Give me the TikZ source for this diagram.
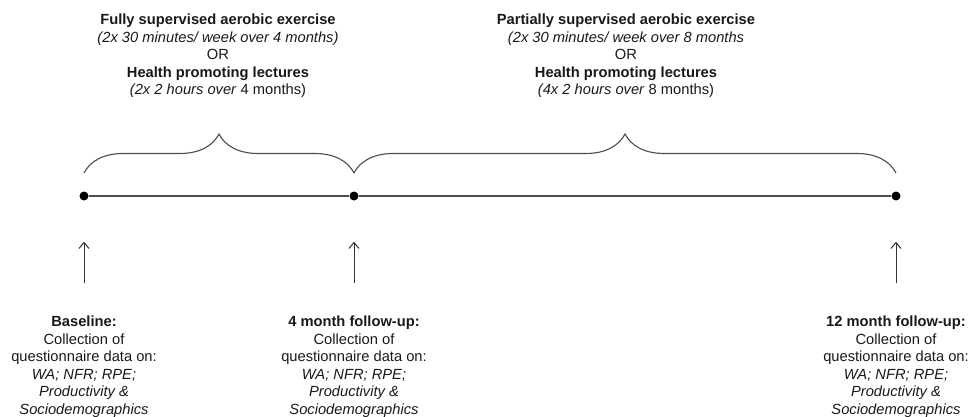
\documentclass[tikz,border=0pt]{standalone}
\usepackage{fontspec}
\setmainfont{Liberation Sans}
\usetikzlibrary{arrows.meta,decorations.pathreplacing}

\begin{document}
\begin{tikzpicture}[x=1pt,y=-1pt]%
  \tikzstyle{dotn}=[circle,fill=black,inner sep=0,minimum size=9pt]
  \tikzstyle{txtn}=[align=center,inner sep=0,anchor=north,text=black!90,font=\fontsize{14.7}{17.5}\selectfont]
  \tikzstyle{brc}=[draw=black!70,line width=1.1pt,decorate,decoration={brace,amplitude=39pt,raise=23pt}]
  \tikzstyle{arr}=[draw=black!80,line width=1pt,-{Straight Barb[length=6pt,width=10pt]}]
  \useasboundingbox (0,0) rectangle (972,417);
  \node(d0)[dotn] at (84,196) {};
  \node(d1)[dotn] at (354,196) {};
  \node(d2)[dotn] at (896,196) {};
  \draw[black!70,line width=1.8pt] (d0) -- (d1) -- (d2);
  \draw[brc] (d0.center) -- (d1.center);
  \draw[brc] (d1.center) -- (d2.center);
  \node(fs)[txtn] at (218,14) {\textbf{Fully supervised aerobic exercise}\\
    \textit{(2x 30 minutes/ week over 4 months)}\\ OR\\
    \textbf{Health promoting lectures}\\ \textit{(2x 2 hours over} 4 months)};
  \node(ps)[txtn] at (626,14) {\textbf{Partially supervised aerobic exercise}\\
    \textit{(2x 30 minutes/ week over 8 months}\\ OR\\
    \textbf{Health promoting lectures}\\ \textit{(4x 2 hours over} 8 months)};
  \node(m0)[txtn] at (84,316) {\textbf{Baseline:}\\ Collection of\\ questionnaire data on:\\
    \textit{WA; NFR; RPE;}\\ \textit{Productivity \&}\\ \textit{Sociodemographics}};
  \node(m4)[txtn] at (354,316) {\textbf{4 month follow-up:}\\ Collection of\\ questionnaire data on:\\
    \textit{WA; NFR; RPE;}\\ \textit{Productivity \&}\\ \textit{Sociodemographics}};
  \node(m12)[txtn] at (896,316) {\textbf{12 month follow-up:}\\ Collection of\\ questionnaire data on:\\
    \textit{WA; NFR; RPE;}\\ \textit{Productivity \&}\\ \textit{Sociodemographics}};
  \draw[arr,shorten <=33pt,shorten >=41pt] (m0.north) -- (d0);
  \draw[arr,shorten <=33pt,shorten >=41pt] (m4.north) -- (d1);
  \draw[arr,shorten <=33pt,shorten >=41pt] (m12.north) -- (d2);
\end{tikzpicture}
\end{document}
